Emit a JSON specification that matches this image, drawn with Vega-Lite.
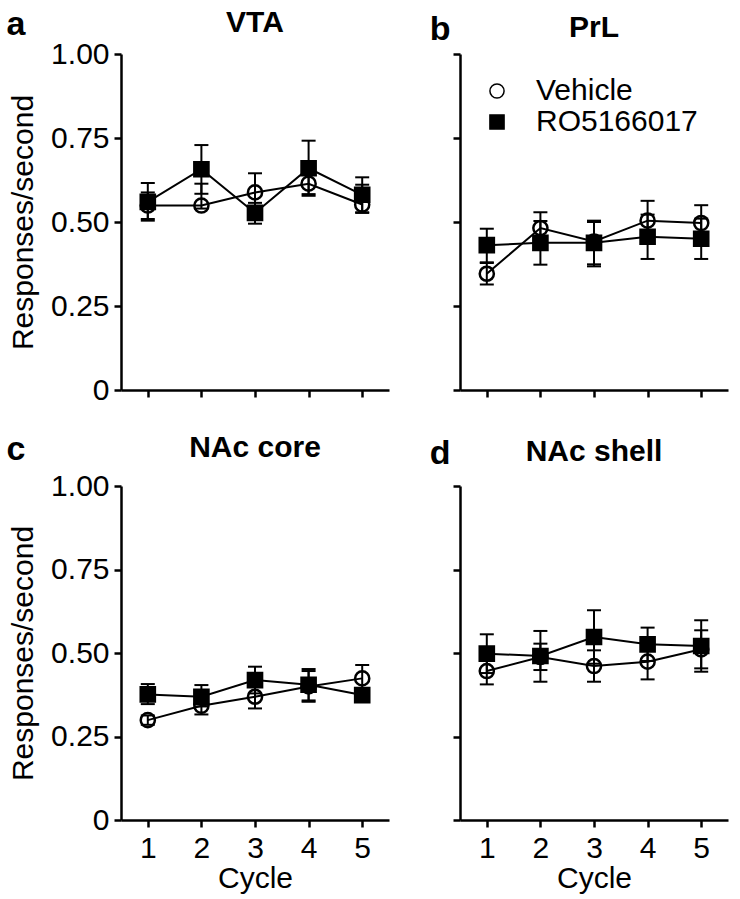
{
  "$schema": "https://vega.github.io/schema/vega-lite/v6.json",
  "padding": {"left": 6, "top": 8, "right": 5, "bottom": 2},
  "datasets": {
    "d": [
      {"panel": "VTA", "group": "Vehicle", "cycle": 1, "mean": 0.549, "lo": 0.509, "hi": 0.588},
      {"panel": "VTA", "group": "Vehicle", "cycle": 2, "mean": 0.549, "lo": 0.540, "hi": 0.614},
      {"panel": "VTA", "group": "Vehicle", "cycle": 3, "mean": 0.588, "lo": 0.545, "hi": 0.645},
      {"panel": "VTA", "group": "Vehicle", "cycle": 4, "mean": 0.614, "lo": 0.583, "hi": 0.645},
      {"panel": "VTA", "group": "Vehicle", "cycle": 5, "mean": 0.552, "lo": 0.527, "hi": 0.611},
      {"panel": "VTA", "group": "RO5166017", "cycle": 1, "mean": 0.560, "lo": 0.504, "hi": 0.616},
      {"panel": "VTA", "group": "RO5166017", "cycle": 2, "mean": 0.657, "lo": 0.584, "hi": 0.729},
      {"panel": "VTA", "group": "RO5166017", "cycle": 3, "mean": 0.527, "lo": 0.495, "hi": 0.557},
      {"panel": "VTA", "group": "RO5166017", "cycle": 4, "mean": 0.660, "lo": 0.578, "hi": 0.742},
      {"panel": "VTA", "group": "RO5166017", "cycle": 5, "mean": 0.581, "lo": 0.529, "hi": 0.633},
      {"panel": "PrL", "group": "Vehicle", "cycle": 1, "mean": 0.346, "lo": 0.314, "hi": 0.378},
      {"panel": "PrL", "group": "Vehicle", "cycle": 2, "mean": 0.482, "lo": 0.440, "hi": 0.529},
      {"panel": "PrL", "group": "Vehicle", "cycle": 3, "mean": 0.442, "lo": 0.374, "hi": 0.504},
      {"panel": "PrL", "group": "Vehicle", "cycle": 4, "mean": 0.504, "lo": 0.450, "hi": 0.563},
      {"panel": "PrL", "group": "Vehicle", "cycle": 5, "mean": 0.497, "lo": 0.450, "hi": 0.550},
      {"panel": "PrL", "group": "RO5166017", "cycle": 1, "mean": 0.431, "lo": 0.380, "hi": 0.480},
      {"panel": "PrL", "group": "RO5166017", "cycle": 2, "mean": 0.438, "lo": 0.373, "hi": 0.503},
      {"panel": "PrL", "group": "RO5166017", "cycle": 3, "mean": 0.438, "lo": 0.368, "hi": 0.500},
      {"panel": "PrL", "group": "RO5166017", "cycle": 4, "mean": 0.456, "lo": 0.390, "hi": 0.522},
      {"panel": "PrL", "group": "RO5166017", "cycle": 5, "mean": 0.450, "lo": 0.390, "hi": 0.510},
      {"panel": "NAc core", "group": "Vehicle", "cycle": 1, "mean": 0.299, "lo": 0.285, "hi": 0.313},
      {"panel": "NAc core", "group": "Vehicle", "cycle": 2, "mean": 0.342, "lo": 0.316, "hi": 0.368},
      {"panel": "NAc core", "group": "Vehicle", "cycle": 3, "mean": 0.369, "lo": 0.334, "hi": 0.404},
      {"panel": "NAc core", "group": "Vehicle", "cycle": 4, "mean": 0.400, "lo": 0.354, "hi": 0.446},
      {"panel": "NAc core", "group": "Vehicle", "cycle": 5, "mean": 0.424, "lo": 0.384, "hi": 0.464},
      {"panel": "NAc core", "group": "RO5166017", "cycle": 1, "mean": 0.376, "lo": 0.347, "hi": 0.407},
      {"panel": "NAc core", "group": "RO5166017", "cycle": 2, "mean": 0.369, "lo": 0.340, "hi": 0.404},
      {"panel": "NAc core", "group": "RO5166017", "cycle": 3, "mean": 0.419, "lo": 0.379, "hi": 0.459},
      {"panel": "NAc core", "group": "RO5166017", "cycle": 4, "mean": 0.405, "lo": 0.358, "hi": 0.452},
      {"panel": "NAc core", "group": "RO5166017", "cycle": 5, "mean": 0.374, "lo": 0.360, "hi": 0.388},
      {"panel": "NAc shell", "group": "Vehicle", "cycle": 1, "mean": 0.446, "lo": 0.406, "hi": 0.486},
      {"panel": "NAc shell", "group": "Vehicle", "cycle": 2, "mean": 0.488, "lo": 0.449, "hi": 0.528},
      {"panel": "NAc shell", "group": "Vehicle", "cycle": 3, "mean": 0.461, "lo": 0.414, "hi": 0.508},
      {"panel": "NAc shell", "group": "Vehicle", "cycle": 4, "mean": 0.474, "lo": 0.421, "hi": 0.527},
      {"panel": "NAc shell", "group": "Vehicle", "cycle": 5, "mean": 0.511, "lo": 0.454, "hi": 0.568},
      {"panel": "NAc shell", "group": "RO5166017", "cycle": 1, "mean": 0.498, "lo": 0.440, "hi": 0.556},
      {"panel": "NAc shell", "group": "RO5166017", "cycle": 2, "mean": 0.491, "lo": 0.414, "hi": 0.566},
      {"panel": "NAc shell", "group": "RO5166017", "cycle": 3, "mean": 0.548, "lo": 0.468, "hi": 0.628},
      {"panel": "NAc shell", "group": "RO5166017", "cycle": 4, "mean": 0.526, "lo": 0.476, "hi": 0.576},
      {"panel": "NAc shell", "group": "RO5166017", "cycle": 5, "mean": 0.521, "lo": 0.444, "hi": 0.598}
    ]
  },
  "data": {"name": "d"},
  "config": {
    "view": {"stroke": null},
    "font": "Liberation Sans",
    "title": {"font": "Liberation Sans", "fontSize": 30, "fontWeight": "bold", "color": "black"},
    "axis": {"grid": false, "domainColor": "black", "domainWidth": 2.5, "tickColor": "black", "tickWidth": 2.5, "tickSize": 7, "labelFontSize": 30, "titleFontSize": 30, "labelColor": "black", "titleColor": "black", "titleFontWeight": "normal", "labelFont": "Liberation Sans", "titleFont": "Liberation Sans"}
  },
  "resolve": {"scale": {"shape": "independent", "fill": "independent"}, "legend": {"shape": "independent", "fill": "independent"}},
  "spacing": 28,
  "vconcat": [
    {
      "spacing": 40,
      "resolve": {"scale": {"shape": "independent", "fill": "independent"}, "legend": {"shape": "independent", "fill": "independent"}},
      "hconcat": [
        {
          "title": {"text": "a", "anchor": "start", "frame": "bounds", "fontSize": 34, "dy": 38, "dx": -2},
          "resolve": {"scale": {"shape": "independent", "fill": "independent"}, "legend": {"shape": "independent", "fill": "independent"}},
          "vconcat": [
            {
              "width": 268, "height": 336,
              "title": {"text": "VTA", "anchor": "middle", "frame": "group", "offset": 1},
              "transform": [{"filter": "datum.panel === 'VTA'"}],
              "layer": [
                {"mark": {"type": "errorbar", "color": "black", "opacity": 1, "ticks": {"size": 14, "thickness": 2, "color": "black", "opacity": 1}, "rule": {"strokeWidth": 2, "color": "black", "opacity": 1}},
                 "encoding": {
                   "x": {"field": "cycle", "type": "quantitative", "scale": {"domain": [0.5, 5.5], "nice": false, "zero": false}, "axis": {"values": [1, 2, 3, 4, 5], "labels": false, "title": null}},
                   "y": {"field": "lo", "type": "quantitative", "scale": {"domain": [0, 1], "nice": false}, "axis": {"title": "Responses/second", "values": [0, 0.25, 0.5, 0.75, 1], "labelExpr": "datum.value === 0 ? '0' : format(datum.value, '.2f')", "labelPadding": 5, "titlePadding": 12}},
                   "y2": {"field": "hi"}}},
                {"mark": {"type": "line", "color": "black", "strokeWidth": 2},
                 "encoding": {
                   "x": {"field": "cycle", "type": "quantitative"},
                   "y": {"field": "mean", "type": "quantitative"},
                   "detail": {"field": "group"}}},
                {"mark": {"type": "point", "stroke": "black", "strokeWidth": 2.5, "size": 200, "opacity": 1},
                 "encoding": {
                   "x": {"field": "cycle", "type": "quantitative"},
                   "y": {"field": "mean", "type": "quantitative"},
                   "shape": {"field": "group", "type": "nominal", "scale": {"domain": ["Vehicle", "RO5166017"], "range": ["circle", "square"]}, "legend": null},
                   "fill": {"field": "group", "type": "nominal", "scale": {"domain": ["Vehicle", "RO5166017"], "range": ["transparent", "black"]}, "legend": null}}}
              ]
            }
          ]
        },
        {
          "title": {"text": "b", "anchor": "start", "frame": "bounds", "fontSize": 34, "dy": 38, "dx": -22},
          "resolve": {"scale": {"shape": "independent", "fill": "independent"}, "legend": {"shape": "independent", "fill": "independent"}},
          "vconcat": [
            {
              "width": 268, "height": 336,
              "title": {"text": "PrL", "anchor": "middle", "frame": "group", "offset": 10},
              "transform": [{"filter": "datum.panel === 'PrL'"}],
              "layer": [
                {"mark": {"type": "errorbar", "color": "black", "opacity": 1, "ticks": {"size": 14, "thickness": 2, "color": "black", "opacity": 1}, "rule": {"strokeWidth": 2, "color": "black", "opacity": 1}},
                 "encoding": {
                   "x": {"field": "cycle", "type": "quantitative", "scale": {"domain": [0.5, 5.5], "nice": false, "zero": false}, "axis": {"values": [1, 2, 3, 4, 5], "labels": false, "title": null}},
                   "y": {"field": "lo", "type": "quantitative", "scale": {"domain": [0, 1], "nice": false}, "axis": {"title": null, "values": [0, 0.25, 0.5, 0.75, 1], "labels": false}},
                   "y2": {"field": "hi"}}},
                {"mark": {"type": "line", "color": "black", "strokeWidth": 2},
                 "encoding": {
                   "x": {"field": "cycle", "type": "quantitative"},
                   "y": {"field": "mean", "type": "quantitative"},
                   "detail": {"field": "group"}}},
                {"mark": {"type": "point", "stroke": "black", "strokeWidth": 2.5, "size": 200, "opacity": 1},
                 "encoding": {
                   "x": {"field": "cycle", "type": "quantitative"},
                   "y": {"field": "mean", "type": "quantitative"},
                   "shape": {"field": "group", "type": "nominal", "scale": {"domain": ["Vehicle", "RO5166017"], "range": ["circle", "square"]},
                     "legend": {"orient": "top-left", "title": null, "offset": 22, "padding": 0, "labelFontSize": 30, "labelColor": "black", "labelFont": "Liberation Sans", "labelLimit": 0, "symbolSize": 200, "labelOffset": 24, "rowPadding": 1,
                       "encode": {"symbols": {
                         "enter": {
                           "shape": {"signal": "datum.value === 'Vehicle' ? 'M-2,0H-1M1,0H2M1,0A1,1,0,1,1,-1,0A1,1,0,1,1,1,0' : 'M-2,0H2M-1,-1H1V1H-1Z'"},
                           "fill": {"signal": "datum.value === 'Vehicle' ? 'transparent' : 'black'"},
                           "stroke": {"value": "black"}, "strokeWidth": {"value": 2.5}, "opacity": {"value": 1}},
                         "update": {
                           "shape": {"signal": "datum.value === 'Vehicle' ? 'M-2,0H-1M1,0H2M1,0A1,1,0,1,1,-1,0A1,1,0,1,1,1,0' : 'M-2,0H2M-1,-1H1V1H-1Z'"},
                           "fill": {"signal": "datum.value === 'Vehicle' ? 'transparent' : 'black'"},
                           "stroke": {"value": "black"}, "strokeWidth": {"value": 2.5}, "opacity": {"value": 1}}}}}},
                   "fill": {"field": "group", "type": "nominal", "scale": {"domain": ["Vehicle", "RO5166017"], "range": ["transparent", "black"]}, "legend": null}}}
              ]
            }
          ]
        }
      ]
    },
    {
      "spacing": 40,
      "resolve": {"scale": {"shape": "independent", "fill": "independent"}, "legend": {"shape": "independent", "fill": "independent"}},
      "hconcat": [
        {
          "title": {"text": "c", "anchor": "start", "frame": "bounds", "fontSize": 34, "dy": 38, "dx": -2},
          "resolve": {"scale": {"shape": "independent", "fill": "independent"}, "legend": {"shape": "independent", "fill": "independent"}},
          "vconcat": [
            {
              "width": 268, "height": 334,
              "title": {"text": "NAc core", "anchor": "middle", "frame": "group", "offset": 8},
              "transform": [{"filter": "datum.panel === 'NAc core'"}],
              "layer": [
                {"mark": {"type": "errorbar", "color": "black", "opacity": 1, "ticks": {"size": 14, "thickness": 2, "color": "black", "opacity": 1}, "rule": {"strokeWidth": 2, "color": "black", "opacity": 1}},
                 "encoding": {
                   "x": {"field": "cycle", "type": "quantitative", "scale": {"domain": [0.5, 5.5], "nice": false, "zero": false}, "axis": {"values": [1, 2, 3, 4, 5], "format": "d", "title": "Cycle", "labelPadding": 6, "titlePadding": 0}},
                   "y": {"field": "lo", "type": "quantitative", "scale": {"domain": [0, 1], "nice": false}, "axis": {"title": "Responses/second", "values": [0, 0.25, 0.5, 0.75, 1], "labelExpr": "datum.value === 0 ? '0' : format(datum.value, '.2f')", "labelPadding": 5, "titlePadding": 12}},
                   "y2": {"field": "hi"}}},
                {"mark": {"type": "line", "color": "black", "strokeWidth": 2},
                 "encoding": {
                   "x": {"field": "cycle", "type": "quantitative"},
                   "y": {"field": "mean", "type": "quantitative"},
                   "detail": {"field": "group"}}},
                {"mark": {"type": "point", "stroke": "black", "strokeWidth": 2.5, "size": 200, "opacity": 1},
                 "encoding": {
                   "x": {"field": "cycle", "type": "quantitative"},
                   "y": {"field": "mean", "type": "quantitative"},
                   "shape": {"field": "group", "type": "nominal", "scale": {"domain": ["Vehicle", "RO5166017"], "range": ["circle", "square"]}, "legend": null},
                   "fill": {"field": "group", "type": "nominal", "scale": {"domain": ["Vehicle", "RO5166017"], "range": ["transparent", "black"]}, "legend": null}}}
              ]
            }
          ]
        },
        {
          "title": {"text": "d", "anchor": "start", "frame": "bounds", "fontSize": 34, "dy": 38, "dx": -22},
          "resolve": {"scale": {"shape": "independent", "fill": "independent"}, "legend": {"shape": "independent", "fill": "independent"}},
          "vconcat": [
            {
              "width": 268, "height": 334,
              "title": {"text": "NAc shell", "anchor": "middle", "frame": "group", "offset": 18},
              "transform": [{"filter": "datum.panel === 'NAc shell'"}],
              "layer": [
                {"mark": {"type": "errorbar", "color": "black", "opacity": 1, "ticks": {"size": 14, "thickness": 2, "color": "black", "opacity": 1}, "rule": {"strokeWidth": 2, "color": "black", "opacity": 1}},
                 "encoding": {
                   "x": {"field": "cycle", "type": "quantitative", "scale": {"domain": [0.5, 5.5], "nice": false, "zero": false}, "axis": {"values": [1, 2, 3, 4, 5], "format": "d", "title": "Cycle", "labelPadding": 6, "titlePadding": 0}},
                   "y": {"field": "lo", "type": "quantitative", "scale": {"domain": [0, 1], "nice": false}, "axis": {"title": null, "values": [0, 0.25, 0.5, 0.75, 1], "labels": false}},
                   "y2": {"field": "hi"}}},
                {"mark": {"type": "line", "color": "black", "strokeWidth": 2},
                 "encoding": {
                   "x": {"field": "cycle", "type": "quantitative"},
                   "y": {"field": "mean", "type": "quantitative"},
                   "detail": {"field": "group"}}},
                {"mark": {"type": "point", "stroke": "black", "strokeWidth": 2.5, "size": 200, "opacity": 1},
                 "encoding": {
                   "x": {"field": "cycle", "type": "quantitative"},
                   "y": {"field": "mean", "type": "quantitative"},
                   "shape": {"field": "group", "type": "nominal", "scale": {"domain": ["Vehicle", "RO5166017"], "range": ["circle", "square"]}, "legend": null},
                   "fill": {"field": "group", "type": "nominal", "scale": {"domain": ["Vehicle", "RO5166017"], "range": ["transparent", "black"]}, "legend": null}}}
              ]
            }
          ]
        }
      ]
    }
  ]
}
